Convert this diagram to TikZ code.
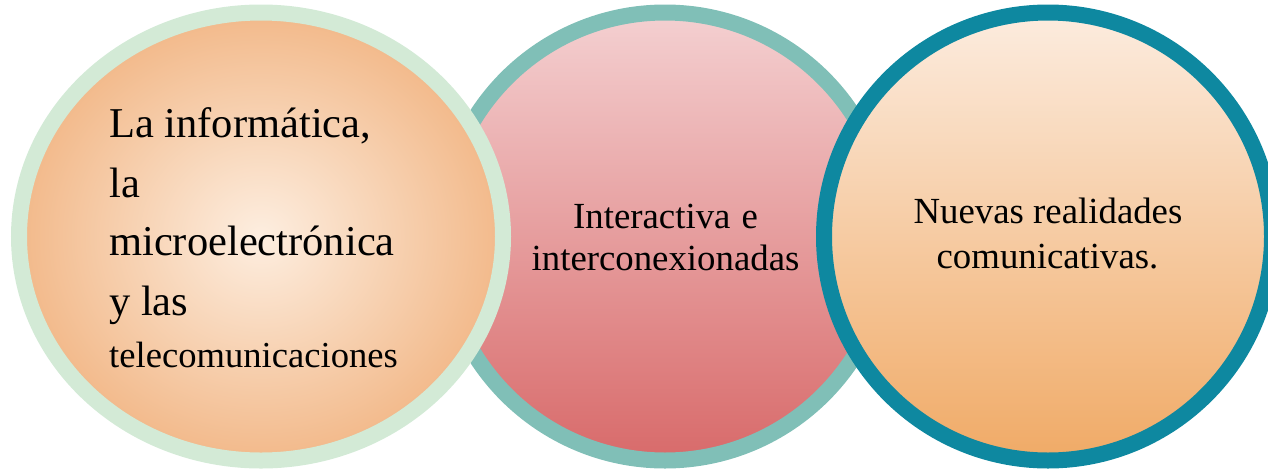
\documentclass[tikz,border=0pt]{standalone}
\usepackage{fontspec}
\setmainfont{Liberation Serif}
\definecolor{ringA}{HTML}{D3EAD6}
\definecolor{fillAin}{HTML}{FDEEE0}
\definecolor{fillAout}{HTML}{F2B98A}
\definecolor{ringB}{HTML}{80BFB7}
\definecolor{fillBtop}{HTML}{F4D0D1}
\definecolor{fillBbot}{HTML}{D86A6A}
\definecolor{ringC}{HTML}{0E88A0}
\definecolor{fillCtop}{HTML}{FCECDF}
\definecolor{fillCbot}{HTML}{F0AA66}
\tikzset{
  ringline/.style={line width=16pt},
  bigtxt/.style={inner sep=0pt, anchor=base west, font=\fontsize{42.5}{50}\selectfont},
  smalltxt/.style={inner sep=0pt, anchor=base west, font=\fontsize{36.6}{44}\selectfont},
  ctrtxt/.style={inner sep=0pt, anchor=base, font=\fontsize{36.8}{44}\selectfont},
}
\begin{document}
\begin{tikzpicture}[x=1pt,y=-1pt]
\useasboundingbox (0,0) rectangle (1268,469);
% middle circle (bottom layer)
\coordinate (cB) at (665,236.5);
\shade[top color=fillBtop, bottom color=fillBbot] (cB) circle (224pt);
\draw[ringline, ringB] (cB) circle (224pt);
% left ellipse
\coordinate (cA) at (261,236.5);
\shade[inner color=fillAin, outer color=fillAout] (cA) ellipse [x radius=242pt, y radius=224pt];
\draw[ringline, ringA] (cA) ellipse [x radius=242pt, y radius=224pt];
% right circle
\coordinate (cC) at (1048,236.5);
\shade[top color=fillCtop, bottom color=fillCbot] (cC) circle (224pt);
\draw[ringline, ringC] (cC) circle (224pt);
% texts
\node[bigtxt] (a1) at (109,137) {La informática,};
\node[bigtxt] (a2) at (109,197) {la};
\node[bigtxt] (a3) at (109,255) {microelectrónica};
\node[bigtxt] (a4) at (109,315) {y las};
\node[smalltxt] (a5) at (109,367) {telecomunicaciones};
\node[ctrtxt] (b1) at (665.5,228) {Interactiva\hspace{0.3em}e};
\node[ctrtxt] (b2) at (665.5,270) {interconexionadas};
\node[ctrtxt] (c1) at (1048,223) {Nuevas realidades};
\node[ctrtxt] (c2) at (1047.5,268) {comunicativas.};
\end{tikzpicture}
\end{document}
